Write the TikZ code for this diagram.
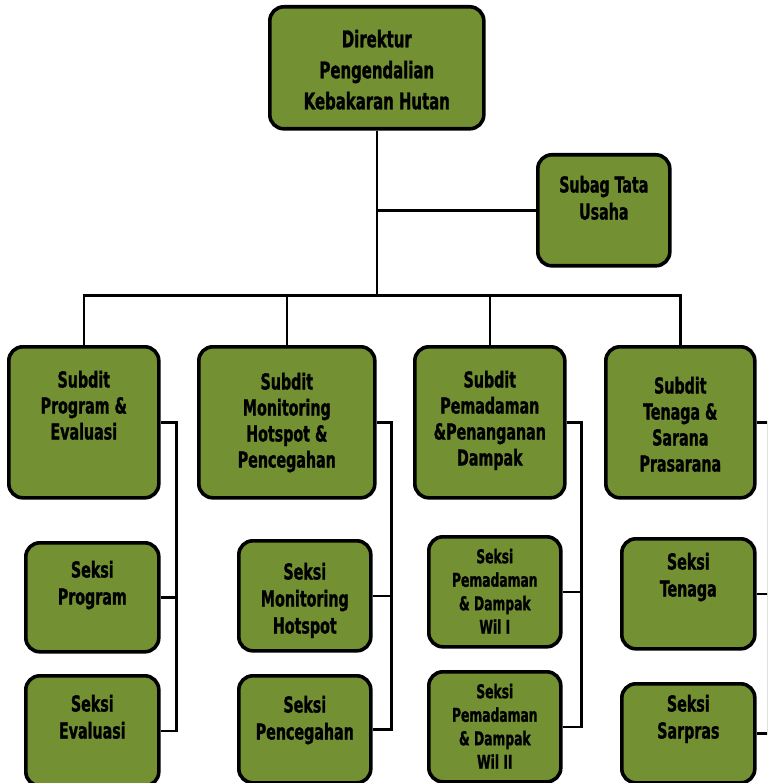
\documentclass[tikz,border=0pt]{standalone}
\usepackage{fontspec}
\newfontfamily\orgfont{DejaVu Sans Condensed}[FakeStretch=0.72, FakeBold=1.2]
\usetikzlibrary{positioning}
\definecolor{boxgreen}{RGB}{115,145,50}
% fixed size box text, top aligned
\newcommand{\boxtxt}[4]{\parbox[c][#2][t]{#1}{\centering\vspace*{#3}#4\par}}

\begin{document}
\begin{tikzpicture}[x=1pt, y=-1pt,
	orgbox/.style={
	draw=black,
	line width=3.6pt,
	fill=boxgreen,
	rounded corners=14pt,
	inner sep=0pt,
	anchor=north west,
	font=\orgfont\bfseries\fontsize{22}{26}\selectfont},
	headbox/.style={
	orgbox,
	font=\orgfont\bfseries\fontsize{23}{31}\selectfont},
	seksibox/.style={
	orgbox,
	font=\orgfont\bfseries\fontsize{22}{27}\selectfont},
	smallbox/.style={
	orgbox,
	font=\orgfont\bfseries\fontsize{19}{23.5}\selectfont},
	link/.style={
	draw=black,
	line width=2.6pt}]

	\useasboundingbox (0,0) rectangle (767,783);
	\clip (0,0) rectangle (767,783);

	% Direktur
	\node [headbox]  at (268,5)   (dir)   {\boxtxt{214pt}{122pt}{23pt}{Direktur\\Pengendalian\\Kebakaran Hutan}};
	\node [seksibox] at (536,153) (subag) {\boxtxt{132pt}{111pt}{21pt}{Subag Tata\\Usaha}};

	% Subdit
	\node [orgbox] at (7,345)   (sd1) {\boxtxt{150pt}{151pt}{24pt}{Subdit\\Program \&\\Evaluasi}};
	\node [orgbox] at (197,345) (sd2) {\boxtxt{176pt}{151pt}{26pt}{Subdit\\Monitoring\\Hotspot \&\\Pencegahan}};
	\node [orgbox] at (413,345) (sd3) {\boxtxt{150pt}{151pt}{24pt}{Subdit\\Pemadaman\\\&Penanganan\\Dampak}};
	\node [orgbox] at (604,345) (sd4) {\boxtxt{149pt}{151pt}{30pt}{Subdit\\Tenaga \&\\Sarana\\Prasarana}};

	% Seksi
	\node [seksibox] at (24,541)  (sprog) {\boxtxt{133pt}{109pt}{18pt}{Seksi\\Program}};
	\node [seksibox] at (24,674)  (seval) {\boxtxt{133pt}{110pt}{19pt}{Seksi\\Evaluasi}};
	\node [seksibox] at (237,539) (smon)  {\boxtxt{132pt}{110pt}{22pt}{Seksi\\Monitoring\\Hotspot}};
	\node [seksibox] at (237,674) (spcg)  {\boxtxt{132pt}{107pt}{20pt}{Seksi\\Pencegahan}};
	\node [smallbox] at (427,535) (swil1) {\boxtxt{132pt}{110pt}{12pt}{Seksi\\Pemadaman\\\& Dampak\\Wil I}};
	\node [smallbox] at (427,670) (swil2) {\boxtxt{132pt}{110pt}{12pt}{Seksi\\Pemadaman\\\& Dampak\\Wil II}};
	\node [seksibox] at (620,537) (stng)  {\boxtxt{133pt}{110pt}{14pt}{Seksi\\Tenaga}};
	\node [seksibox] at (620,682) (ssar)  {\boxtxt{133pt}{99pt}{11pt}{Seksi\\Sarpras}};

	% Lines
	\path (dir.south) ++(0,165) coordinate (bus);
	\draw [link] (dir) -- (bus);
	\draw [link] (subag) -- (subag -| bus);
	\draw [link] (sd1) |- (bus);
	\draw [link] (sd2) |- (bus);
	\draw [link] (sd3) |- (bus);
	\draw [link] (sd4) |- (bus);

	\draw [link] (sd1.east) -- ++(16,0) coordinate (r1) |- (seval.east);
	\draw [link] (sprog.east) -- (sprog.east -| r1);

	\draw [link] (sd2.east) -- ++(15,0) coordinate (r2) |- (spcg.east);
	\draw [link] (smon.east) -- (smon.east -| r2);

	\draw [link] (sd3.east) -- ++(15,0) coordinate (r3) |- (swil2.east);
	\draw [link] (swil1.east) -- (swil1.east -| r3);

	\draw [link] (sd4.east) -- ++(12,0) coordinate (r4) |- (ssar.east);
	\draw [link] (stng.east) -- (stng.east -| r4);

\end{tikzpicture}
\end{document}
